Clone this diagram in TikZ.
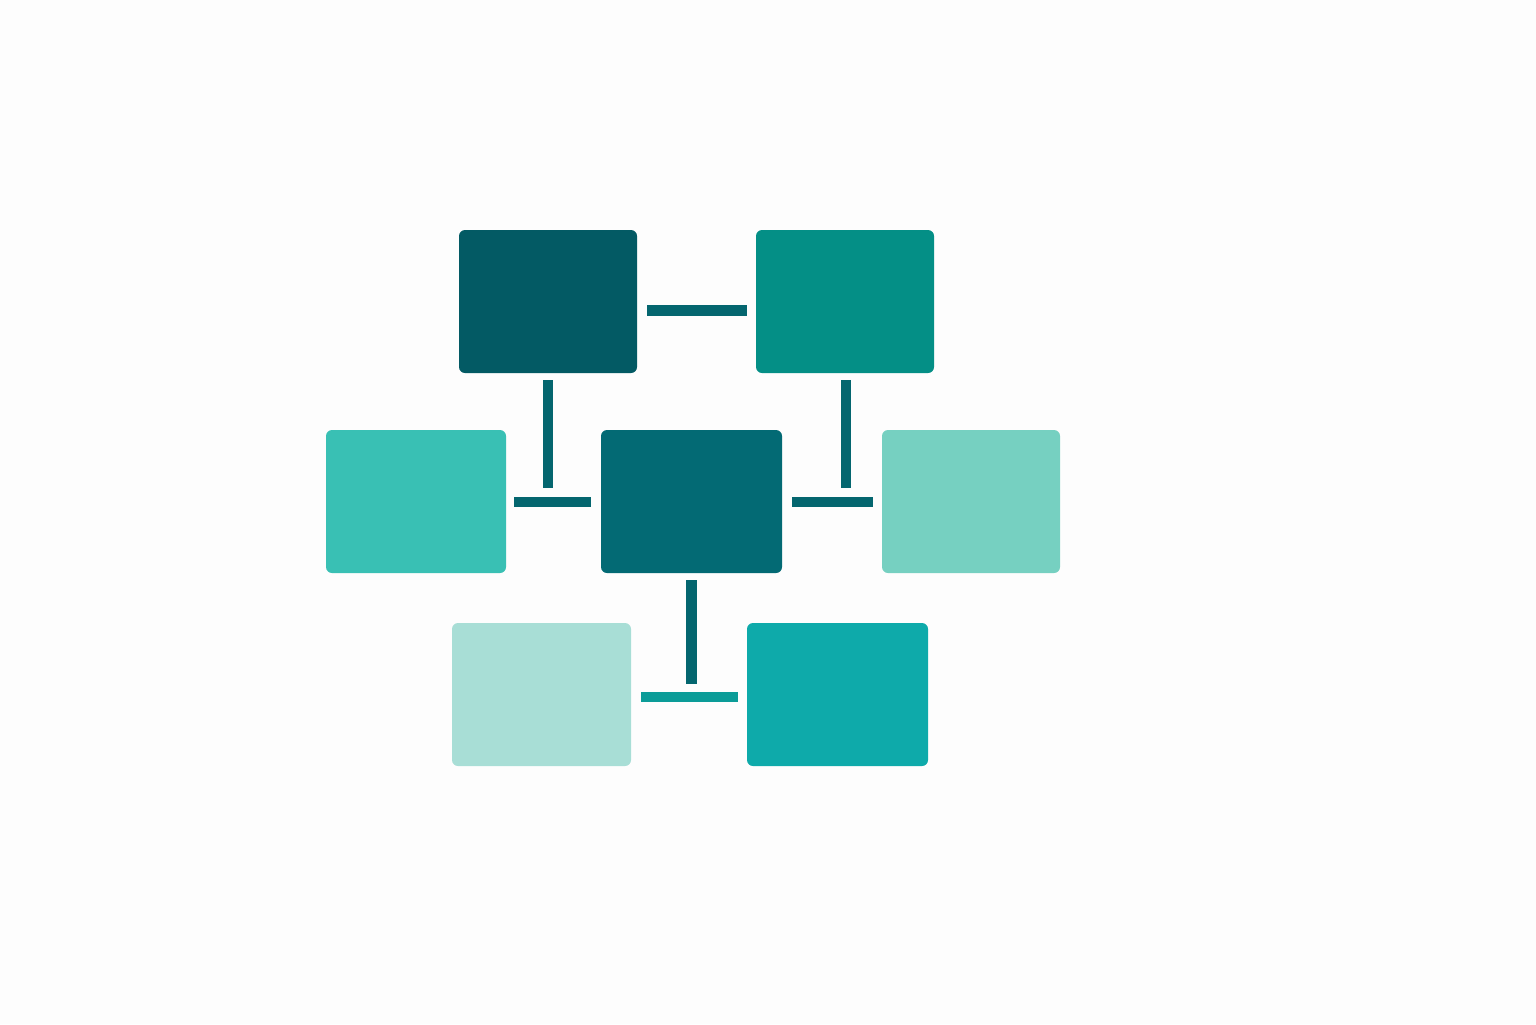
\documentclass[tikz,border=0pt]{standalone}
\definecolor{bg}{HTML}{FDFDFD}
\definecolor{cA}{HTML}{035A64}
\definecolor{cB}{HTML}{048F86}
\definecolor{cC}{HTML}{39C0B4}
\definecolor{cD}{HTML}{036A74}
\definecolor{cE}{HTML}{76D0C1}
\definecolor{cF}{HTML}{A8DED6}
\definecolor{cG}{HTML}{0EAAAA}
\definecolor{barc}{HTML}{04666F}
\definecolor{barl}{HTML}{0B9C98}
\tikzset{
  tile/.style={rounded corners=3pt},
  bar/.style={fill=barc}
}
\begin{document}
\begin{tikzpicture}[x=0.5pt,y=-0.5pt]
\fill[bg] (0,0) rectangle (1536,1024);
\useasboundingbox (0,0) rectangle (1536,1024);
% tiles
\fill[tile,cA] (459,230) rectangle (637,373);
\fill[tile,cB] (756,230) rectangle (934,373);
\fill[tile,cC] (326,430) rectangle (506,573);
\fill[tile,cD] (601,430) rectangle (782,573);
\fill[tile,cE] (882,430) rectangle (1060,573);
\fill[tile,cF] (452,623) rectangle (631,766);
\fill[tile,cG] (747,623) rectangle (928,766);
% bars
\fill[bar] (647,305) rectangle (747,316);
\fill[bar] (543,380) rectangle (553,488);
\fill[bar] (514,497) rectangle (591,507);
\fill[bar] (841,380) rectangle (851,488);
\fill[bar] (792,497) rectangle (873,507);
\fill[bar] (686,580) rectangle (697,684);
\fill[fill=barl] (641,692) rectangle (738,702);
\end{tikzpicture}
\end{document}
